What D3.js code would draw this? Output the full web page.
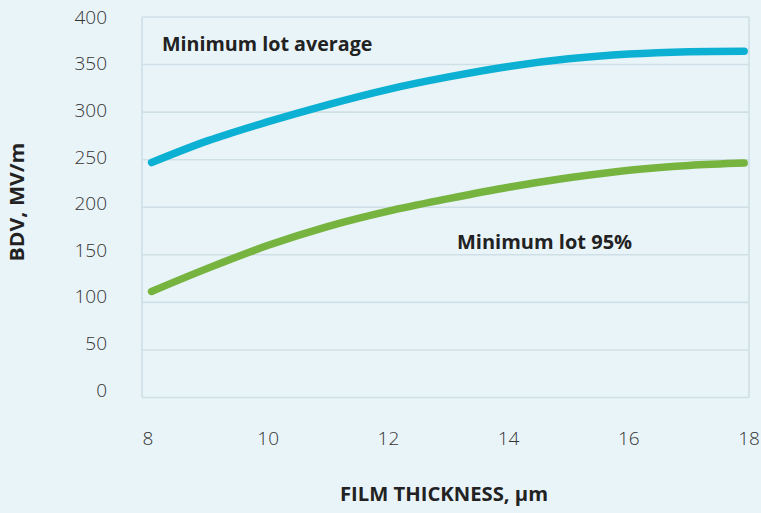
<!DOCTYPE html>
<html>
<head>
<meta charset="utf-8">
<script src="https://cdn.jsdelivr.net/npm/d3@7"></script>
<style>
  html, body { margin: 0; padding: 0; background: #e9f4f9; }
  svg { display: block; }
</style>
</head>
<body>
<svg id="chart" width="761" height="513"></svg>
<script>
// ---- data ----
const thickness = [8.06, 9, 10, 11, 12, 13, 14, 15, 16, 17, 17.92];
const lotAverage = [247, 270, 290, 308, 324, 337, 348, 356, 361, 363.5, 364];
const lot95 = [111.5, 136, 160, 180, 196, 209, 221, 231, 239, 244, 246.5];
const xTicks = [8, 10, 12, 14, 16, 18];
const yTicks = [0, 50, 100, 150, 200, 250, 300, 350, 400];
const seriesNames = ["Minimum lot average", "Minimum lot 95%"];
const axisTitles = { x: "FILM THICKNESS, µm", y: "BDV, MV/m" };

const svg = d3.select("#chart");
const W = 761, H = 513;
svg.append("rect").attr("width", W).attr("height", H).attr("fill", "#e9f4f9");

const plot = { left: 142, right: 749, top: 17, bottom: 397.5 };
const x = d3.scaleLinear().domain([8, 18]).range([148, 749]);
const y = d3.scaleLinear().domain([0, 400]).range([plot.bottom, plot.top]);
const yLab = d3.scaleLinear().domain([0, 400]).range([390, 17]);

const gridColor = "#cfdfe6";
const fontBase = "'Open Sans', 'Noto Sans', sans-serif";

// horizontal grid lines
svg.append("g").selectAll("line").data(yTicks).join("line")
  .attr("x1", plot.left).attr("x2", plot.right)
  .attr("y1", d => y(d)).attr("y2", d => y(d))
  .attr("stroke", gridColor).attr("stroke-width", 1.6);
// side borders
svg.append("g").selectAll("line").data([plot.left, plot.right]).join("line")
  .attr("x1", d => d).attr("x2", d => d)
  .attr("y1", plot.top).attr("y2", plot.bottom)
  .attr("stroke", gridColor).attr("stroke-width", 1.6);

// y tick labels
svg.append("g").selectAll("text").data(yTicks).join("text")
  .attr("x", 107).attr("y", d => yLab(d))
  .attr("dy", "0.35em")
  .attr("text-anchor", "end")
  .attr("font-family", fontBase).attr("font-weight", 300)
  .attr("font-size", 19).attr("fill", "#333")
  .text(d => d);

// x tick labels
svg.append("g").selectAll("text").data(xTicks).join("text")
  .attr("x", d => x(d)).attr("y", 438)
  .attr("dy", "0.35em")
  .attr("text-anchor", "middle")
  .attr("font-family", fontBase).attr("font-weight", 300)
  .attr("font-size", 19).attr("fill", "#333")
  .text(d => d);

// lines
const line = d3.line().curve(d3.curveCatmullRom.alpha(0.5))
  .x(d => x(d[0])).y(d => y(d[1]));
const series = [
  { vals: lotAverage, color: "#0cb0d3" },
  { vals: lot95, color: "#76b43f" }
];
svg.append("g").selectAll("path").data(series).join("path")
  .attr("d", s => line(thickness.map((t, i) => [t, s.vals[i]])))
  .attr("fill", "none").attr("stroke", s => s.color)
  .attr("stroke-width", 7.5).attr("stroke-linecap", "round");

// series labels
svg.append("text").attr("x", 162).attr("y", 50.5)
  .attr("font-family", fontBase).attr("font-weight", 700)
  .attr("font-size", 19.7).attr("fill", "#222")
  .text(seriesNames[0]);
svg.append("text").attr("x", 457).attr("y", 249)
  .attr("font-family", fontBase).attr("font-weight", 700)
  .attr("font-size", 20).attr("fill", "#222")
  .text(seriesNames[1]);

// axis titles
svg.append("text").attr("x", 444).attr("y", 501)
  .attr("text-anchor", "middle")
  .attr("font-family", fontBase).attr("font-weight", 700)
  .attr("font-size", 19).attr("textLength", 208).attr("lengthAdjust", "spacingAndGlyphs")
  .attr("fill", "#222")
  .text(axisTitles.x);
svg.append("text")
  .attr("transform", "translate(24,202) rotate(-90)")
  .attr("text-anchor", "middle")
  .attr("font-family", fontBase).attr("font-weight", 700)
  .attr("font-size", 19).attr("textLength", 119).attr("lengthAdjust", "spacingAndGlyphs")
  .attr("fill", "#222")
  .text(axisTitles.y);
</script>
</body>
</html>
